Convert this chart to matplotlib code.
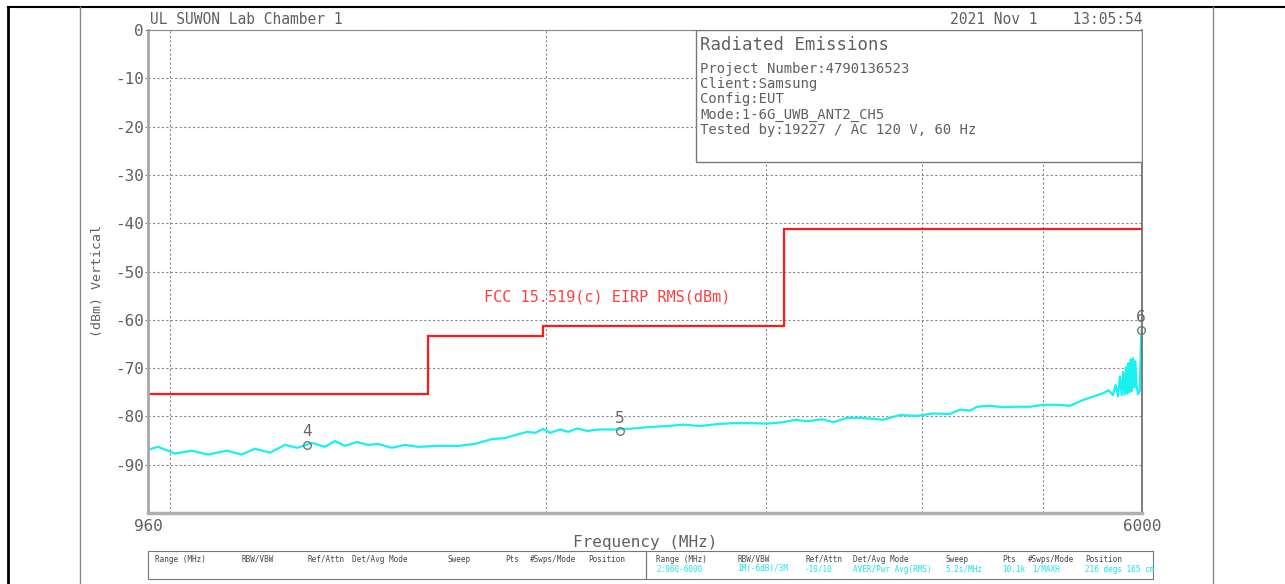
import matplotlib
matplotlib.use("Agg")
import matplotlib.pyplot as plt
from matplotlib.lines import Line2D
from matplotlib.patches import Rectangle
from matplotlib.ticker import NullFormatter

plt.rcParams['font.family'] = ['DejaVu Sans Mono']

freq_mhz = [960, 978, 1009, 1041, 1072, 1110, 1141, 1169, 1202, 1236,
            1264, 1299, 1330, 1355, 1380, 1411, 1440, 1467, 1505, 1542,
            1579, 1639, 1701, 1754, 1810, 1854, 1882, 1931, 1960, 1989,
            2015, 2052, 2083, 2118, 2157, 2209, 2279, 2348, 2423, 2500,
            2575, 2657, 2741, 2823, 2914, 3007, 3097, 3165, 3236, 3333,
            3395, 3484, 3568, 3614, 3723, 3841, 3963, 4082, 4212, 4290,
            4370, 4427, 4535, 4645, 4766, 4882, 5000, 5130, 5254, 5382,
            5482, 5584, 5640, 5688, 5715, 5741, 5760, 5780, 5794, 5810,
            5825, 5837, 5850, 5862, 5875, 5888, 5901, 5915, 5925, 5940,
            5956, 5975, 5990, 6000]
niveau_dbm = [-86.9, -86.3, -87.7, -87.1, -87.9, -87.1, -87.9, -86.7, -87.5, -85.9,
              -86.5, -85.5, -86.3, -85.1, -86.1, -85.3, -85.9, -85.7, -86.5, -85.9,
              -86.3, -86.1, -86.1, -85.7, -84.7, -84.5, -84.0, -83.2, -83.4, -82.6,
              -83.4, -82.7, -83.2, -82.5, -83.0, -82.7, -82.7, -82.5, -82.2, -82.0,
              -81.7, -82.0, -81.6, -81.4, -81.4, -81.5, -81.2, -80.7, -81.0, -80.6,
              -81.2, -80.3, -80.3, -80.4, -80.7, -79.7, -79.9, -79.4, -79.5, -78.6,
              -78.8, -78.0, -77.8, -78.1, -78.0, -78.0, -77.6, -77.6, -77.8, -76.6,
              -75.9, -75.2, -74.6, -75.6, -73.5, -75.8, -71.8, -75.6, -70.8, -75.5,
              -69.8, -75.3, -69.0, -75.0, -68.2, -74.8, -68.0, -74.0, -68.6, -73.5,
              -75.4, -74.8, -64.0, -61.9]

# Limite FCC 15.519(c)
limite_bornes = [960, 1610, 1990, 3100, 6000]
limite_dbm = [-75.3, -63.3, -61.3, -41.3]

# Marqueurs
marqueur_num = ["4", "5", "6"]
marqueur_freq = [1287, 2292, 5990]
marqueur_dbm = [-85.9, -83.1, -62.2]

y_ticks = [0, -10, -20, -30, -40, -50, -60, -70, -80, -90]
x_grille = [1000, 2000, 3000, 4000, 5000]

infos = ["Project Number:4790136523", "Client:Samsung", "Config:EUT",
         "Mode:1-6G_UWB_ANT2_CH5", "Tested by:19227 / AC 120 V, 60 Hz"]

entetes = ["Range (MHz)", "RBW/VBW", "Ref/Attn", "Det/Avg Mode", "Sweep",
           "Pts", "#Swps/Mode", "Position"]
valeurs = ["2:960-6000", "1M(-6dB)/3M", "-10/10", "AVER/Pwr Avg(RMS)",
           "5.2s/MHz", "10.1k", "1/MAXH", "216 degs 165 cm"]

W, H = 1285, 584
gris = '#606060'


def fx(px):
    return px / W


def fy(py):
    return 1 - py / H


fig = plt.figure(figsize=(W / 100, H / 100), dpi=100)
ax = fig.add_axes([fx(148), fy(513), fx(1142) - fx(148), fy(30) - fy(513)])

ax.set_xscale('log')
ax.set_xlim(960, 6000)
ax.set_ylim(-100, 0)

# Courbes
ax.stairs(limite_dbm, limite_bornes, baseline=None, color='#ff1a1a', lw=1.6, zorder=2)
ax.plot(freq_mhz, niveau_dbm, color='#19f0f0', lw=1.6, zorder=2)

ax.text(1784, -55.3, "FCC 15.519(c) EIRP RMS(dBm)", color='#ff4040',
        fontsize=11, va='center', ha='left')

for num, f, n in zip(marqueur_num, marqueur_freq, marqueur_dbm):
    ax.plot(f, n, 'o', mfc='none', mec='#777777', ms=5.5, mew=1, zorder=4, clip_on=False)
    ax.annotate(num, (f, n), xytext=(0, 4), textcoords='offset points',
                ha='center', va='bottom', color='#666666', fontsize=11,
                fontfamily='DejaVu Sans', annotation_clip=False)

# Axes et grille
ax.set_yticks(y_ticks)
ax.set_yticklabels([str(v) for v in y_ticks])
ax.set_xticks([960, 6000])
ax.set_xticklabels(["960", "6000"])
ax.set_xticks(x_grille, minor=True)
ax.xaxis.set_minor_formatter(NullFormatter())
ax.tick_params(axis='x', which='both', length=0, pad=4, labelsize=11.5, labelcolor=gris)
ax.tick_params(axis='y', length=2, pad=1, labelsize=11.5, labelcolor=gris, color='#888888')
ax.grid(True, axis='y', which='major', color='#8a8a8a', lw=0.8, ls=(0, (2, 2)))
ax.grid(True, axis='x', which='minor', color='#8a8a8a', lw=0.8, ls=(0, (2, 2)))
ax.set_axisbelow(True)

ax.spines['left'].set_color('#a8a8a8')
ax.spines['left'].set_linewidth(2)
ax.spines['bottom'].set_color('#b0b0b0')
ax.spines['bottom'].set_linewidth(2.5)
ax.spines['top'].set_color('#888888')
ax.spines['top'].set_linewidth(0.8)
ax.spines['right'].set_color('#666666')
ax.spines['right'].set_linewidth(1.2)

# Cadre d'informations
ax.add_patch(Rectangle(((696 - 148) / 994, (513 - 162) / 483), (1142 - 696) / 994, (162 - 30) / 483,
                       transform=ax.transAxes, fc='white', ec='#777777', lw=1, zorder=3))
fig.text(fx(700), fy(45), "Radiated Emissions", fontsize=12.5, color=gris, va='center')
for i, ligne in enumerate(infos):
    fig.text(fx(700), fy(69 + i * 15.2), ligne, fontsize=10, color=gris, va='center')

# Titres
fig.text(fx(150), fy(19), "UL SUWON Lab Chamber 1", fontsize=10.5, color=gris, va='center')
fig.text(fx(1142), fy(19), "2021 Nov 1    13:05:54", fontsize=10.5, color=gris,
         va='center', ha='right')
fig.text(fx(645), fy(543), "Frequency (MHz)", fontsize=11.5, color=gris, va='center', ha='center')
fig.text(fx(97), fy(281), "(dBm) Vertical", fontsize=9.5, color=gris, va='center',
         ha='center', rotation=90)

# Tableau des réglages
for x0, x1 in [(148, 646), (646, 1153)]:
    fig.add_artist(Rectangle((fx(x0), fy(579)), fx(x1) - fx(x0), fy(551) - fy(579),
                             transform=fig.transFigure, fc='none', ec='#777777', lw=0.8))
col_gauche = [155, 242, 307, 352, 447, 505, 530, 588]
col_droite = [656, 737, 805, 853, 945, 1002, 1028, 1085]
for i, txt in enumerate(entetes):
    fig.text(fx(col_gauche[i]), fy(559), txt, fontsize=5.5, color='#444444', va='center')
    fig.text(fx(col_droite[i]), fy(559), txt, fontsize=5.5, color='#444444', va='center')
    x_val = 1032 if valeurs[i] == "1/MAXH" else col_droite[i]
    fig.text(fx(x_val), fy(569), valeurs[i], fontsize=5.5, color='#19e6e6', va='center')

# Bordures de la page
fig.add_artist(Line2D([fx(8), fx(8)], [fy(7), 0], color='black', lw=2))
fig.add_artist(Line2D([fx(8), 1], [fy(7), fy(7)], color='black', lw=1.5))
for xp in [80, 1213]:
    fig.add_artist(Line2D([fx(xp), fx(xp)], [fy(7), 0], color='#888888', lw=1))

plt.savefig("out.png", dpi=100)
plt.close()
